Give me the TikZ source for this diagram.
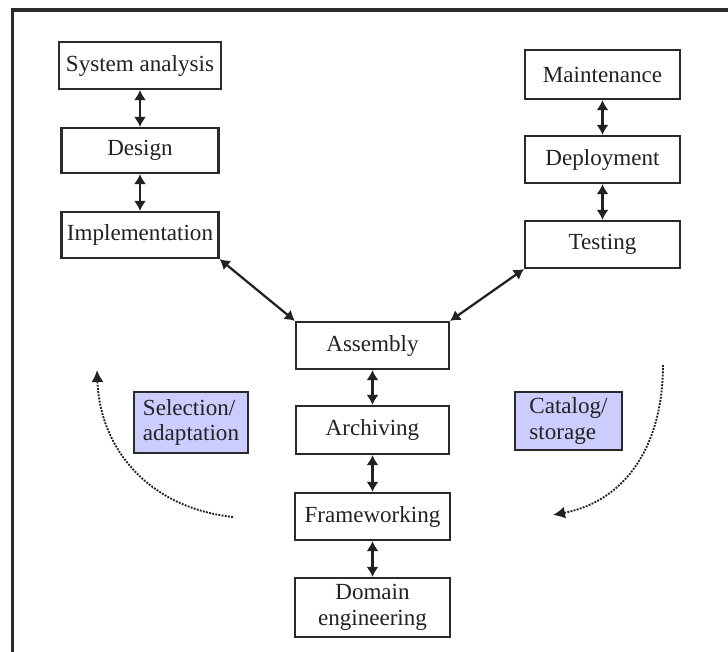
\documentclass[tikz,border=0pt]{standalone}
\usepackage{fontspec}
\setmainfont{Liberation Serif}
\usetikzlibrary{arrows.meta}
\definecolor{boxedge}{HTML}{2A2A2A}
\definecolor{phasefill}{HTML}{CCCCFF}
\definecolor{ink}{HTML}{222222}
\begin{document}
\begin{tikzpicture}[x=0.75pt,y=-0.75pt,
  every node/.style={font=\fontsize{17.3}{20}\selectfont, text=ink},
  stage/.style={draw=boxedge, line width=1.6pt, fill=white, inner sep=0pt,
    minimum width={#1*0.75pt}, align=center},
  phase/.style={draw=boxedge, line width=1.6pt, fill=phasefill, inner sep=0pt,
    minimum width={#1*0.75pt}, align=left},
  link/.style={draw=ink, line width=1.7pt, {Latex[length=7.5pt,width=9pt]}-{Latex[length=7.5pt,width=9pt]}},
  flow/.style={draw=ink, line width=1.4pt, densely dotted, -{Latex[length=9pt,width=9pt]}}]
  \useasboundingbox (0,0) rectangle (728,652);

  % frame
  \draw[line width=2.4pt, draw=boxedge] (12.5,652) -- (12.5,10) -- (728,10);

  % left column
  \node[stage=162, minimum height=47*0.75pt] (sa) at (140,65.5) {System analysis};
  \node[stage=157, minimum height=45*0.75pt] (de) at (140,150.5) {Design};
  \node[stage=157, minimum height=46*0.75pt] (im) at (140,235) {Implementation};

  % right column
  \node[stage=155, minimum height=49*0.75pt] (ma) at (602.5,74.5) {Maintenance};
  \node[stage=155, minimum height=47*0.75pt] (dp) at (602.5,159.5) {Deployment};
  \node[stage=155, minimum height=47*0.75pt] (te) at (602.5,244.5) {Testing};

  % central column
  \node[stage=153, minimum height=47*0.75pt] (as) at (372.5,345.5) {Assembly};
  \node[stage=153, minimum height=48*0.75pt] (ar) at (372.5,430) {Archiving};
  \node[stage=155, minimum height=47*0.75pt] (fw) at (372.5,516.5) {Frameworking};
  \node[stage=155, minimum height=59*0.75pt] (dm) at (372.5,607.5) {Domain\\[-1pt]engineering};

  % phase labels
  \node[phase=114, minimum height=61*0.75pt] (sel) at (191,422.5) {Selection/\\[-1pt]adaptation};
  \node[phase=107, minimum height=58*0.75pt] (cat) at (568.5,421) {Catalog/\\[-1pt]storage};

  % connectors
  \draw[link] (sa) -- (de);
  \draw[link] (de) -- (im);
  \draw[link] (ma) -- (dp);
  \draw[link] (dp) -- (te);
  \draw[link] (as) -- (ar);
  \draw[link] (ar) -- (fw);
  \draw[link] (fw) -- (dm);
  \draw[link] (im.south east) -- (as.north west);
  \draw[link] (te.south west) -- (as.north east);

  % dotted cycle arrows
  \coordinate (ls) at (233,517);
  \coordinate (le) at (97,370);
  \coordinate (rs) at (663,365);
  \coordinate (re) at (553,515);
  \draw[flow] (ls) .. controls (150,508) and (100,450) .. (le);
  \draw[flow] (rs) .. controls (663,440) and (630,500) .. (re);
\end{tikzpicture}
\end{document}
